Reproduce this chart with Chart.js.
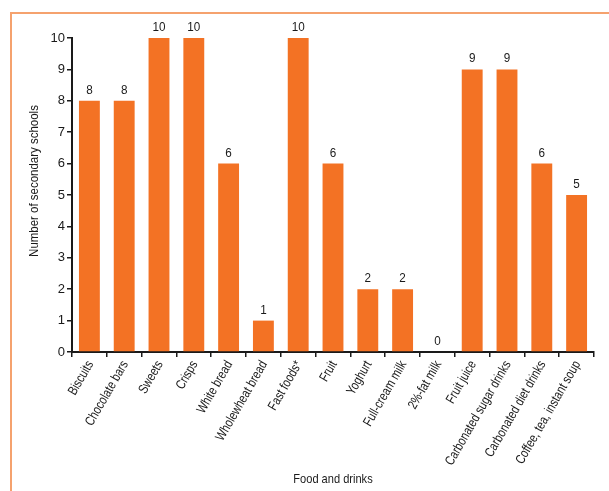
<!DOCTYPE html>
<html>
<head>
<meta charset="utf-8">
<script src="https://cdn.jsdelivr.net/npm/chart.js@4"></script>
<style>
  html, body { margin: 0; padding: 0; background: #fff; }
  #wrap { width: 609px; height: 491px; }
</style>
</head>
<body>
<div id="wrap"><canvas id="chart" width="609" height="491"></canvas></div>
<script>
const categories = ["Biscuits", "Chocolate bars", "Sweets", "Crisps", "White bread", "Wholewheat bread", "Fast foods*", "Fruit", "Yoghurt", "Full-cream milk", "2%-fat milk", "Fruit juice", "Carbonated sugar drinks", "Carbonated diet drinks", "Coffee, tea, instant soup"];
const schools = [8, 8, 10, 10, 6, 1, 10, 6, 2, 2, 0, 9, 9, 6, 5];
const yTicks = [0, 1, 2, 3, 4, 5, 6, 7, 8, 9, 10];

const FONT = "'Liberation Sans', Arial, sans-serif";
const NARROW = 0.8; // squeeze text to look like a condensed face
const INK = "#1a1a1a";

// draw text squeezed horizontally around its anchor point
function narrowText(ctx, text, x, y, angle, sx) {
	ctx.save();
	ctx.translate(x, y);
	ctx.rotate(angle);
	ctx.scale(sx, 1);
	ctx.fillText(text, 0, 0);
	ctx.restore();
}

// frame lines around the figure
const frame = {
	id: "frame",
	beforeDraw(chart) {
		const { ctx } = chart;
		ctx.save();
		ctx.strokeStyle = "#F5A26E";
		ctx.lineWidth = 2;
		ctx.beginPath();
		ctx.moveTo(11, 491);
		ctx.lineTo(11, 13);
		ctx.lineTo(609, 13);
		ctx.stroke();
		ctx.restore();
	}
};

// value above each bar, rotated category labels, axis titles
const texts = {
	id: "texts",
	afterDraw(chart) {
		const { ctx, chartArea } = chart;
		const meta = chart.getDatasetMeta(0);
		const xs = chart.scales.x;
		ctx.save();
		ctx.fillStyle = INK;

		ctx.font = "13px " + FONT;
		ctx.textAlign = "center";
		ctx.textBaseline = "bottom";
		meta.data.forEach((bar, i) => {
			narrowText(ctx, String(schools[i]), bar.x, bar.y - 4, 0, 0.9);
		});

		ctx.font = "13.5px " + FONT;
		ctx.textAlign = "right";
		ctx.textBaseline = "middle";
		categories.forEach((c, i) => {
			const x = xs.getPixelForValue(i);
			narrowText(ctx, c, x + 1, chartArea.bottom + 10, -Math.PI / 3, NARROW);
		});

		ctx.font = "13.5px " + FONT;
		ctx.textAlign = "center";
		ctx.textBaseline = "middle";
		narrowText(ctx, "Food and drinks", (chartArea.left + chartArea.right) / 2, 479, 0, 0.82);
		narrowText(ctx, "Number of secondary schools", 34, 181, -Math.PI / 2, 0.85);
		ctx.restore();
	}
};

new Chart(document.getElementById("chart"), {
	type: "bar",
	data: {
		labels: categories,
		datasets: [{
			data: schools,
			backgroundColor: "#F37224",
			borderWidth: 0,
			barPercentage: 0.6,
			categoryPercentage: 1
		}]
	},
	options: {
		responsive: false,
		animation: false,
		layout: { padding: { top: 38, right: 15, bottom: 2, left: 0 } },
		plugins: {
			legend: { display: false },
			tooltip: { enabled: false }
		},
		scales: {
			x: {
				grid: { drawOnChartArea: false, drawTicks: true, tickLength: 5, color: INK, lineWidth: 1.5 },
				border: { color: INK, width: 2 },
				ticks: { display: false },
				afterFit(scale) { scale.height = 137; }
			},
			y: {
				min: 0,
				max: 10,
				afterBuildTicks(scale) { scale.ticks = yTicks.map(v => ({ value: v })); },
				grid: { drawOnChartArea: false, drawTicks: true, tickLength: 5, color: INK, lineWidth: 1.5 },
				border: { color: INK, width: 2 },
				ticks: {
					color: INK,
					font: { family: FONT, size: 13 },
					padding: 2
				},
				afterFit(scale) { scale.width = 72; }
			}
		}
	},
	plugins: [frame, texts]
});
</script>
</body>
</html>
